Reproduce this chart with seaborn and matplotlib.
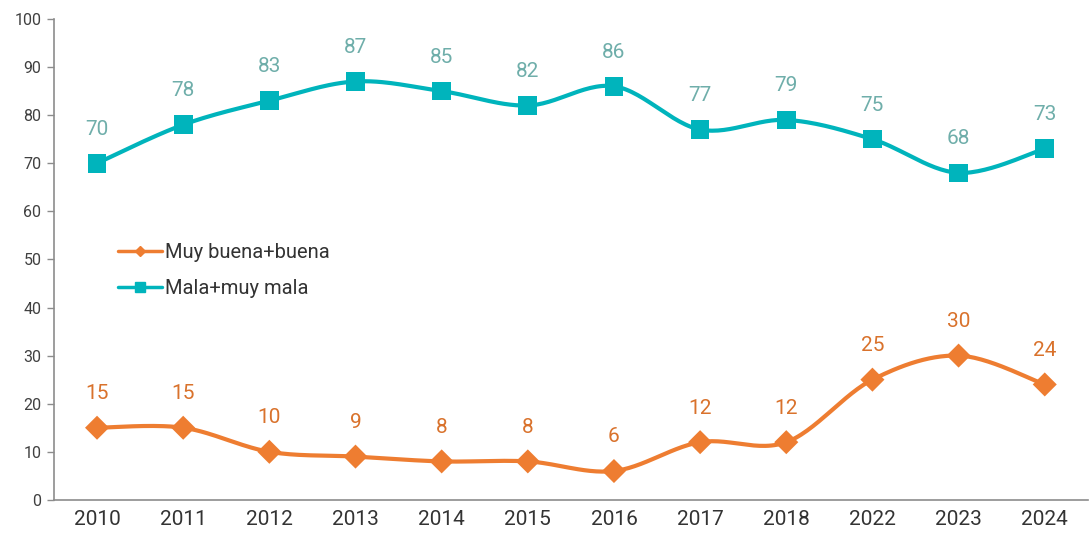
import numpy as np
import pandas as pd
import matplotlib
matplotlib.use("Agg")
import matplotlib.pyplot as plt
import seaborn as sns
from matplotlib.lines import Line2D

years = ["2010", "2011", "2012", "2013", "2014", "2015", "2016", "2017", "2018", "2022", "2023", "2024"]
buena = [15, 15, 10, 9, 8, 8, 6, 12, 12, 25, 30, 24]
mala = [70, 78, 83, 87, 85, 82, 86, 77, 79, 75, 68, 73]

series_names = ["Muy buena+buena", "Mala+muy mala"]
line_colors = ["#EE7D31", "#00B4BC"]
label_colors = ["#D9722C", "#6FAEAA"]
markers = ["D", "s"]

sns.set_theme(style="white")
plt.rcParams["font.family"] = ["Roboto", "DejaVu Sans"]


def smooth(xs, ys, n=30):
    # Excel-style smoothed line (Catmull-Rom / Bezier with 1/6 control offsets)
    xs = np.asarray(xs, float)
    ys = np.asarray(ys, float)
    P = np.column_stack([xs, ys])
    ext = np.vstack([P[0], P, P[-1]])
    out = []
    for i in range(len(P) - 1):
        p0, p1, p2, p3 = ext[i], ext[i + 1], ext[i + 2], ext[i + 3]
        c1 = p1 + (p2 - p0) / 6.0
        c2 = p2 - (p3 - p1) / 6.0
        t = np.linspace(0, 1, n)[:, None]
        seg = ((1 - t) ** 3) * p1 + 3 * ((1 - t) ** 2) * t * c1 + 3 * (1 - t) * t ** 2 * c2 + t ** 3 * p2
        if i > 0:
            seg = seg[1:]
        out.append(seg)
    out = np.vstack(out)
    return out[:, 0], out[:, 1]


fig, ax = plt.subplots(figsize=(10.9, 5.41), dpi=100)
fig.subplots_adjust(left=0.0495, right=0.998, bottom=0.076, top=0.965)

xpos = np.arange(len(years))
df = pd.DataFrame({"x": np.concatenate([xpos, xpos]),
                   "value": buena + mala,
                   "serie": [series_names[0]] * len(years) + [series_names[1]] * len(years)})

for k, (name, vals) in enumerate(zip(series_names, [buena, mala])):
    sx, sy = smooth(xpos, vals)
    sdf = pd.DataFrame({"x": sx, "y": sy})
    sns.lineplot(data=sdf, x="x", y="y", ax=ax, color=line_colors[k], lw=3, sort=False,
                 estimator=None, legend=False, zorder=2)
    sub = df[df["serie"] == name]
    sns.scatterplot(data=sub, x="x", y="value", ax=ax, marker=markers[k],
                    s=(150 if k == 0 else 180), color=line_colors[k], edgecolor="none",
                    legend=False, zorder=3)
    for xi, v in zip(xpos, vals):
        ax.annotate(str(v), (xi, v), xytext=(0, 24.5),
                    textcoords="offset points", ha="center", va="center",
                    fontsize=15, color=label_colors[k])

ax.set_xlim(-0.5, len(years) - 0.5)
ax.set_ylim(0, 100)
ax.set_yticks(range(0, 101, 10))
ax.set_xticks(xpos)
ax.set_xticklabels(years)
ax.set_xticks(np.arange(-0.5, len(years), 1), minor=True)
ax.tick_params(axis="x", which="major", length=0, labelsize=15, labelcolor="#333333", pad=7)
ax.tick_params(axis="x", which="minor", length=5, width=1, color="#8C8C8C", direction="out")
ax.tick_params(axis="y", length=5, width=1, color="#8C8C8C", labelsize=11.5, labelcolor="#404040", pad=4,
               left=True)
ax.set_xlabel("")
ax.set_ylabel("")
for s in ["top", "right"]:
    ax.spines[s].set_visible(False)
for s in ["left", "bottom"]:
    ax.spines[s].set_color("#8C8C8C")
    ax.spines[s].set_linewidth(1.2)

handles = [Line2D([0], [0], color=line_colors[0], lw=2.5, marker="D", markersize=5),
           Line2D([0], [0], color=line_colors[1], lw=2.5, marker="s", markersize=7)]
leg = ax.legend(handles, series_names, loc="upper left", bbox_to_anchor=(0.044, 0.572),
                frameon=False, fontsize=14.5, handlelength=2.2, handletextpad=0.15,
                labelspacing=0.85, labelcolor="#333333")

fig.savefig("out.png", dpi=100)
